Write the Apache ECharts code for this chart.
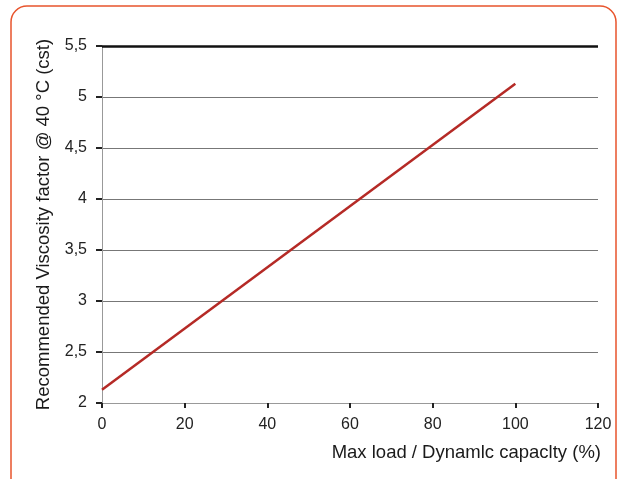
<!DOCTYPE html>
<html>
<head>
<meta charset="utf-8">
<script src="https://cdn.jsdelivr.net/npm/echarts@6/dist/echarts.min.js"></script>
<style>
html,body{margin:0;padding:0;background:#fff;}
#chart{width:624px;height:479px;}
</style>
</head>
<body>
<div id="chart"></div>
<script>
// Data
var loadPercent = [0, 100];
var viscosityFactor = [2.13, 5.13];
var yTickLabels = ['2', '2,5', '3', '3,5', '4', '4,5', '5', '5,5'];
var xAxisTitle = 'Max load / Dynamlc capaclty (%)';
var yAxisTitle = 'Recommended Viscosity factor @ 40 °C (cst)';
var topLineValue = 5.5;

var chart = echarts.init(document.getElementById('chart'));
var seriesData = loadPercent.map(function (x, i) { return [x, viscosityFactor[i]]; });

chart.setOption({
  animation: false,
  grid: { left: 102, right: 26, top: 46, bottom: 76 },
  graphic: [{
    type: 'rect',
    shape: { x: 11, y: 6, width: 605, height: 520, r: 16 },
    style: { fill: 'none', stroke: '#E8542C', lineWidth: 1.5 },
    silent: true
  }],
  xAxis: {
    type: 'value',
    min: 0, max: 120, interval: 20,
    name: xAxisTitle,
    nameLocation: 'end',
    nameGap: 3,
    nameTextStyle: {
      fontFamily: 'Liberation Sans', fontSize: 18.5, color: '#1a1a1a',
      align: 'right', verticalAlign: 'top', padding: [40, 0, 0, 0]
    },
    axisLine: { show: true, lineStyle: { color: '#999', width: 1 } },
    axisTick: { show: true, length: 5, lineStyle: { color: '#222', width: 2 } },
    axisLabel: { margin: 14, fontFamily: 'Liberation Sans', fontSize: 16, color: '#222' },
    splitLine: { show: false }
  },
  yAxis: {
    type: 'value',
    min: 2, max: 5.5, interval: 0.5,
    name: yAxisTitle,
    nameLocation: 'middle',
    nameGap: 47,
    nameTextStyle: { fontFamily: 'Liberation Sans', fontSize: 18.5, color: '#1a1a1a' },
    axisLine: { show: true, lineStyle: { color: '#999', width: 1 } },
    axisTick: { show: true, length: 6, lineStyle: { color: '#222', width: 2 } },
    axisLabel: {
      margin: 15, fontFamily: 'Liberation Sans', fontSize: 16, color: '#222',
      formatter: function (v) { return yTickLabels[Math.round((v - 2) / 0.5)]; }
    },
    splitLine: { show: true, lineStyle: { color: '#777', width: 1 } }
  },
  series: [{
    type: 'line',
    data: seriesData,
    symbol: 'none',
    lineStyle: { color: '#B52A26', width: 2.5 },
    markLine: {
      silent: true,
      symbol: 'none',
      label: { show: false },
      lineStyle: { color: '#111', width: 2.5, type: 'solid' },
      data: [{ yAxis: topLineValue }]
    }
  }]
});
</script>
</body>
</html>
